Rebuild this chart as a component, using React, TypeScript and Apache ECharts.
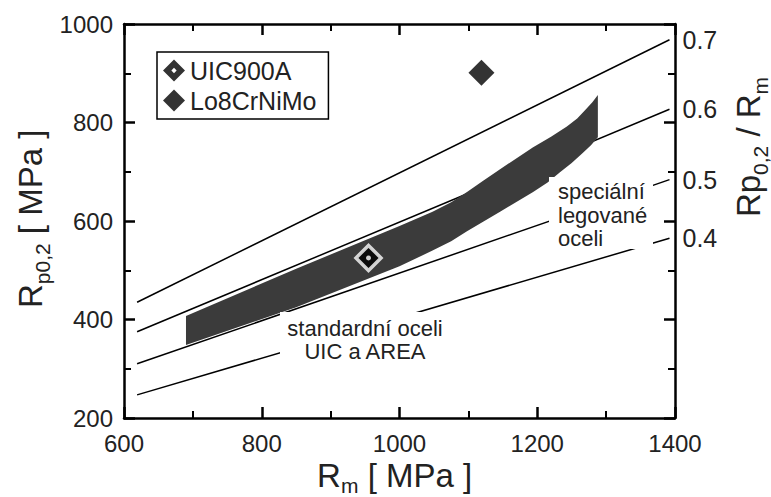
import React, { useEffect, useRef } from 'react';
import * as echarts from 'echarts';

// ---- data (Rm in MPa on x, Rp0,2 in MPa on y) ----
const xMin = 600;
const xMax = 1400;
const yMin = 200;
const yMax = 1000;

// constant Rp0,2/Rm ratio lines: endpoints
const lineRm = [619, 1392];
const line07 = [435, 968];
const line06 = [375, 827];
const line05 = [310, 684];
const line04 = [247, 565];
const lineNames = ['0.7', '0.6', '0.5', '0.4'];

// dark band (scatter range of steels)
const bandUpperRm = [690, 850, 1000, 1048, 1075, 1098, 1122, 1146, 1194, 1220, 1243, 1258, 1270, 1280, 1288];
const bandUpperRp = [407, 503, 590, 619, 638, 659, 682, 705, 750, 771, 792, 808, 826, 841, 856];
const bandLowerRm = [690, 850, 1000, 1048, 1075, 1098, 1122, 1146, 1194, 1215, 1233, 1250, 1266, 1278, 1288];
const bandLowerRp = [348, 425, 508, 540, 559, 579, 599, 619, 659, 678, 699, 718, 738, 754, 770];

// materials
const seriesNames = ['UIC900A', 'Lo8CrNiMo'];
const uicPoint = [955, 525];
const lo8Point = [1119, 901];

const TEXT = '#222';
const SANS = "'Liberation Sans', Arial, Helvetica, sans-serif";
const NARROW = "'Liberation Sans Narrow', 'Arial Narrow', 'Liberation Sans', Arial, sans-serif";

const openDiamond =
  'path://M10,0 L20,10 L10,20 L0,10 Z M10,7.6 L7.6,10 L10,12.4 L12.4,10 Z';

function ratioLine(name: string, vals: number[]) {
  return {
    type: 'line',
    name,
    data: [
      [lineRm[0], vals[0]],
      [lineRm[1], vals[1]],
    ],
    symbol: 'none',
    silent: true,
    z: 2,
    lineStyle: { color: '#000', width: 1.5 },
    endLabel: {
      show: true,
      formatter: name,
      distance: 13,
      fontFamily: NARROW,
      fontSize: 25,
      color: TEXT,
    },
  };
}

function t(text: string, x: number, y: number, size: number, extra: any = {}) {
  return {
    type: 'text',
    x,
    y,
    z: 120,
    silent: true,
    style: {
      text,
      fontSize: size,
      fontFamily: SANS,
      fill: TEXT,
      textAlign: 'left',
      textVerticalAlign: 'middle',
      ...extra,
    },
  };
}

const plain = (v: number) => String(v);

export default function App() {
  const ref = useRef<HTMLDivElement>(null);

  useEffect(() => {
    if (!ref.current) return;
    const chart = echarts.init(ref.current, undefined, { renderer: 'svg' });

    const axisCommon = {
      type: 'value',
      axisLine: { show: true, onZero: false, lineStyle: { color: '#000', width: 2.5 } },
      axisTick: { show: true, inside: true, length: 11, lineStyle: { color: '#000', width: 2.5 } },
      minorTick: { show: true, splitNumber: 2, length: 7, lineStyle: { color: '#000', width: 2 } },
      splitLine: { show: false },
    };

    const option: any = {
      animation: false,
      backgroundColor: '#fff',
      grid: { left: 124, right: 96, top: 24, bottom: 79, containLabel: false },
      xAxis: [
        {
          ...axisCommon,
          position: 'bottom',
          min: xMin,
          max: xMax,
          interval: 200,
          axisLabel: {
            show: true,
            margin: 13,
            formatter: plain,
            fontFamily: NARROW,
            fontSize: 24,
            color: TEXT,
          },
        },
        {
          ...axisCommon,
          position: 'top',
          min: xMin,
          max: xMax,
          interval: 200,
          axisLabel: { show: false },
        },
      ],
      yAxis: [
        {
          ...axisCommon,
          position: 'left',
          min: yMin,
          max: yMax,
          interval: 200,
          axisLabel: {
            show: true,
            margin: 11,
            formatter: plain,
            fontFamily: NARROW,
            fontSize: 24,
            color: TEXT,
          },
        },
        {
          ...axisCommon,
          position: 'right',
          min: yMin,
          max: yMax,
          interval: 200,
          axisLabel: { show: false },
        },
      ],
      legend: {
        left: 157,
        top: 52,
        orient: 'vertical',
        padding: [6, 12, 6, 6],
        itemGap: 5,
        itemWidth: 22,
        itemHeight: 22,
        borderColor: '#000',
        borderWidth: 1.5,
        backgroundColor: '#fff',
        itemStyle: { borderWidth: 0 },
        textStyle: { fontFamily: SANS, fontSize: 25, color: TEXT },
        data: [
          { name: seriesNames[0], icon: openDiamond },
          { name: seriesNames[1], icon: 'diamond' },
        ],
      },
      series: [
        ratioLine(lineNames[0], line07),
        ratioLine(lineNames[1], line06),
        ratioLine(lineNames[2], line05),
        ratioLine(lineNames[3], line04),
        {
          type: 'custom',
          name: 'band',
          coordinateSystem: 'cartesian2d',
          silent: true,
          z: 3,
          data: [[bandUpperRm[0], bandUpperRp[0]]],
          renderItem: (_params: any, api: any) => {
            const pts: number[][] = [];
            for (let i = 0; i < bandUpperRm.length; i++) {
              pts.push(api.coord([bandUpperRm[i], bandUpperRp[i]]));
            }
            for (let i = bandLowerRm.length - 1; i >= 0; i--) {
              pts.push(api.coord([bandLowerRm[i], bandLowerRp[i]]));
            }
            return {
              type: 'polygon',
              shape: { points: pts },
              style: { fill: '#3b3b3b' },
            };
          },
        },
        {
          type: 'scatter',
          name: seriesNames[0],
          data: [uicPoint],
          symbol: 'diamond',
          symbolSize: 25,
          z: 5,
          itemStyle: { color: '#000', borderColor: '#fff', borderWidth: 3.5 },
        },
        {
          type: 'scatter',
          name: 'UIC900A-dot',
          data: [uicPoint],
          symbol: 'circle',
          symbolSize: 5,
          z: 6,
          itemStyle: { color: '#fff' },
        },
        {
          type: 'scatter',
          name: seriesNames[1],
          data: [lo8Point],
          symbol: 'diamond',
          symbolSize: 26,
          z: 5,
          itemStyle: { color: '#000' },
        },
      ],
      graphic: [
        // white label boxes
        {
          type: 'rect',
          z: 110,
          silent: true,
          shape: { x: 280, y: 312, width: 166, height: 50 },
          style: { fill: '#fff' },
        },
        {
          type: 'rect',
          z: 110,
          silent: true,
          shape: { x: 549, y: 177, width: 104, height: 72 },
          style: { fill: '#fff' },
        },
        t('standardní oceli\nUIC a AREA', 365, 339.5, 22, { textAlign: 'center', lineHeight: 23 }),
        t('speciální\nlegované\noceli', 558, 180, 22, { textVerticalAlign: 'top', lineHeight: 23.5 }),
        // x-axis title: R_m [ MPa ]
        t('R', 317, 475, 33),
        t('m', 341, 485, 21),
        t(' [ MPa ]', 358.5, 475, 33),
        // left y title: R_p0,2 [ MPa ]
        {
          type: 'group',
          x: 30,
          y: 308,
          rotation: Math.PI / 2,
          children: [
            t('R', 0, 0, 33),
            t('p0,2', 23.8, 12, 21),
            t(' [ MPa ]', 64.7, 0, 33),
          ],
        },
        // right y title: Rp0,2 / R_m
        {
          type: 'group',
          x: 748,
          y: 217,
          rotation: Math.PI / 2,
          children: [
            t('R', 0, 0, 33),
            t('p', 23.8, 0, 33),
            t('0,2', 42.1, 12, 21),
            t(' / ', 71.3, 0, 33),
            t('R', 98.8, 0, 33),
            t('m', 122.6, 12, 21),
          ],
        },
      ],
    };

    chart.setOption(option);
    return () => chart.dispose();
  }, []);

  return (
    <div
      ref={ref}
      style={{ position: 'fixed', left: 0, top: 0, width: 771, height: 497, background: '#fff' }}
    />
  );
}
